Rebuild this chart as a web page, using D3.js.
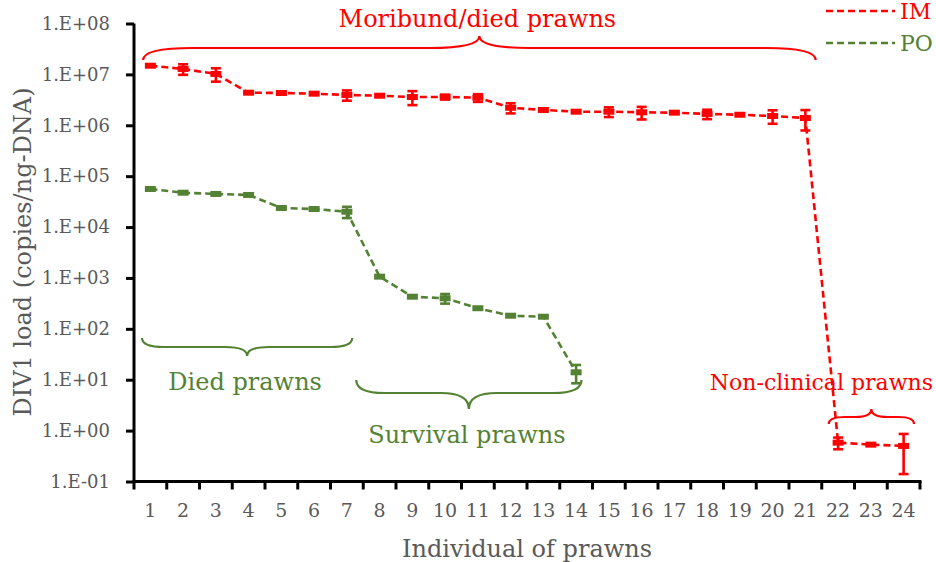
<!DOCTYPE html>
<html>
<head>
<meta charset="utf-8">
<script src="https://cdn.jsdelivr.net/npm/d3@7"></script>
<style>
    body { margin: 0; background: #fff; }
    svg text { font-family: "DejaVu Serif", "Liberation Serif", serif; }
</style>
</head>
<body>
<div id="chart"></div>
<script>

// categories on the x axis (individual prawns)
let categories = ["1", "2", "3", "4", "5", "6", "7", "8", "9", "10", "11", "12",
    "13", "14", "15", "16", "17", "18", "19", "20", "21", "22", "23", "24"];

// IM group - mean copies/ng-DNA and error (linear sd)
let imMean = [1.48e7, 1.28e7, 1.02e7, 4.37e6, 4.31e6, 4.18e6, 3.94e6, 3.81e6, 3.59e6, 3.6e6,
    3.48e6, 2.21e6, 2.0e6, 1.85e6, 1.85e6, 1.8e6, 1.77e6, 1.67e6, 1.61e6, 1.52e6, 1.39e6,
    0.58, 0.53, 0.5];
let imErr = [0, 3e6, 3e6, 1e5, 3e5, 0, 9e5, 0, 1.1e6, 4e5,
    6e5, 5e5, 0, 0, 4e5, 5e5, 0, 3.5e5, 0, 4.5e5, 6e5,
    0.15, 0.02, 0.36];

// PO group - first 14 prawns only
let poMean = [5.6e4, 4.73e4, 4.47e4, 4.27e4, 2.37e4, 2.26e4, 2.0e4, 1060, 428, 398, 254, 181, 173, 14];
let poErr = [0, 0, 0, 0, 0, 0, 5000, 0, 0, 85, 0, 0, 0, 5.5];

// y tick values and their labels
let yTicks = [1e-1, 1e0, 1e1, 1e2, 1e3, 1e4, 1e5, 1e6, 1e7, 1e8];
let yTickLabels = ["1.E-01", "1.E+00", "1.E+01", "1.E+02", "1.E+03", "1.E+04", "1.E+05", "1.E+06", "1.E+07", "1.E+08"];

let seriesNames = ["IM", "PO"];
let seriesColors = ["#ff0000", "#548235"];

// brace annotations: first/last prawn covered, text, colour index
let braceLabels = ["Moribund/died prawns", "Died prawns", "Survival prawns", "Non-clinical prawns"];
let braceFrom = ["1", "1", "8", "22"];
let braceTo = ["21", "7", "14", "24"];
let braceColor = [0, 1, 1, 0];


let width = 936, height = 562;

let svg = d3.select("#chart").append("svg")
    .attr("width", width)
    .attr("height", height);

let x = d3.scaleBand()
    .domain(categories)
    .range([134, 920]);

let y = d3.scaleLog()
    .domain([0.1, 1e8])
    .range([481.5, 23.5]);

// ---- axes ----
let yAxis = d3.axisLeft(y)
    .tickValues(yTicks)
    .tickFormat((d, i) => yTickLabels[i])
    .tickSize(8)
    .tickPadding(16);

let yg = svg.append("g")
    .attr("transform", "translate(134,0)")
    .call(yAxis);
yg.select(".domain").attr("stroke", "#000").attr("stroke-width", 3).attr("d", `M0,${y(1e8)}V${y(0.1) + 1.5}`);
yg.selectAll(".tick line").attr("stroke", "#000").attr("stroke-width", 3);
yg.selectAll(".tick text")
    .attr("fill", "#595959")
    .style("font-size", "18px")
    .style("font-family", "DejaVu Serif");

let xAxis = d3.axisBottom(x)
    .tickSize(0)
    .tickPadding(22);

let xg = svg.append("g")
    .attr("transform", `translate(0,${y(0.1)})`)
    .call(xAxis);
xg.select(".domain").attr("stroke", "#000").attr("stroke-width", 3).attr("d", `M${x.range()[0] - 1.5},0H${x.range()[1] + 1.5}`);
xg.selectAll(".tick text")
    .attr("fill", "#595959")
    .style("font-size", "19px")
    .style("font-family", "DejaVu Serif");

// tick marks sit between categories
xg.selectAll(".bound")
    .data(categories.concat(["end"]))
    .enter().append("line")
    .attr("class", "bound")
    .attr("x1", (d, i) => x.range()[0] + i * x.step())
    .attr("x2", (d, i) => x.range()[0] + i * x.step())
    .attr("y1", 0)
    .attr("y2", 8)
    .attr("stroke", "#000")
    .attr("stroke-width", 3);

// axis titles
svg.append("text")
    .attr("transform", `translate(31,252) rotate(-90)`)
    .attr("text-anchor", "middle")
    .attr("fill", "#595959")
    .style("font-size", "24px")
    .text("DIV1 load (copies/ng-DNA)");

svg.append("text")
    .attr("x", 527)
    .attr("y", 557)
    .attr("text-anchor", "middle")
    .attr("fill", "#595959")
    .style("font-size", "24px")
    .text("Individual of prawns");

// ---- series ----
let series = [
    categories.map((c, i) => ({cat: c, v: imMean[i], e: imErr[i]})),
    poMean.map((v, i) => ({cat: categories[i], v: v, e: poErr[i]}))
];

let cx = d => x(d.cat) + x.bandwidth() / 2;

let line = d3.line()
    .x(cx)
    .y(d => y(d.v));

series.forEach((data, s) => {
    let col = seriesColors[s];
    let g = svg.append("g").attr("class", "series-" + seriesNames[s]);

    g.append("path")
        .datum(data)
        .attr("d", line)
        .attr("fill", "none")
        .attr("stroke", col)
        .attr("stroke-width", 2.6)
        .attr("stroke-dasharray", "7,4");

    // error bars
    let eb = g.selectAll(".err")
        .data(data.filter(d => d.e > 0))
        .enter().append("g")
        .attr("class", "err");

    eb.append("line")
        .attr("x1", cx).attr("x2", cx)
        .attr("y1", d => y(d.v + d.e))
        .attr("y2", d => y(Math.max(d.v - d.e, 0.1)))
        .attr("stroke", col)
        .attr("stroke-width", 2.6);

    ["top", "bottom"].forEach(k => {
        eb.append("line")
            .attr("x1", d => cx(d) - 5).attr("x2", d => cx(d) + 5)
            .attr("y1", d => k === "top" ? y(d.v + d.e) : y(Math.max(d.v - d.e, 0.1)))
            .attr("y2", d => k === "top" ? y(d.v + d.e) : y(Math.max(d.v - d.e, 0.1)))
            .attr("stroke", col)
            .attr("stroke-width", 2.6);
    });

    // dash markers
    g.selectAll(".marker")
        .data(data)
        .enter().append("rect")
        .attr("class", "marker")
        .attr("x", d => cx(d) - 5.5)
        .attr("y", d => y(d.v) - 3)
        .attr("width", 11)
        .attr("height", 6)
        .attr("fill", col);
});

// ---- legend ----
seriesNames.forEach((name, i) => {
    let ly = 11 + i * 32;
    svg.append("line")
        .attr("x1", 826).attr("x2", 895)
        .attr("y1", ly).attr("y2", ly)
        .attr("stroke", seriesColors[i])
        .attr("stroke-width", 2.6)
        .attr("stroke-dasharray", "7,4");
    svg.append("text")
        .attr("x", 900)
        .attr("y", ly + 8)
        .attr("fill", seriesColors[i])
        .style("font-size", "22px")
        .text(name);
});

// ---- braces ----
// y0 = ends, y1 = flat part, yt = tip, r = curve length, padL/padR = inset from the bands
let braceGeom = [
    {y0: 60, y1: 48, yt: 36, r: 50, padL: 9, padR: 6, ty: 27},
    {y0: 338, y1: 347, yt: 356, r: 22, padL: 8, padR: 11, ty: 390},
    {y0: 380, y1: 393, yt: 409, r: 28, padL: -7, padR: 11, ty: 443},
    {y0: 424, y1: 417, yt: 409, r: 16, padL: 7, padR: 6, ty: 390}
];

function bracePath(xa, xb, b) {
    let xm = (xa + xb) / 2;
    return `M${xa},${b.y0}Q${xa},${b.y1} ${xa + b.r},${b.y1}` +
        `L${xm - b.r},${b.y1}Q${xm},${b.y1} ${xm},${b.yt}` +
        `Q${xm},${b.y1} ${xm + b.r},${b.y1}` +
        `L${xb - b.r},${b.y1}Q${xb},${b.y1} ${xb},${b.y0}`;
}

braceLabels.forEach((lab, i) => {
    let b = braceGeom[i];
    let xa = x(braceFrom[i]) + b.padL;
    let xb = x(braceTo[i]) + x.bandwidth() - b.padR;
    let col = seriesColors[braceColor[i]];

    svg.append("path")
        .attr("d", bracePath(xa, xb, b))
        .attr("fill", "none")
        .attr("stroke", col)
        .attr("stroke-width", 2.2);

    let t = svg.append("text")
        .attr("y", b.ty)
        .attr("fill", col)
        .style("font-size", "24px")
        .text(lab);

    // the last label hangs against the right edge
    if (i === 3) {
        t.attr("x", 933).attr("text-anchor", "end").style("font-size", "22px");
    } else {
        t.attr("x", (xa + xb) / 2 - 2).attr("text-anchor", "middle");
    }
});

</script>
</body>
</html>
